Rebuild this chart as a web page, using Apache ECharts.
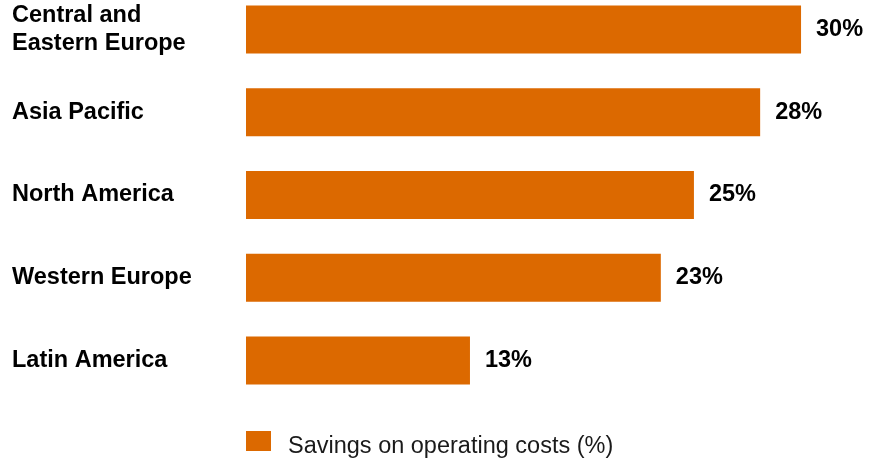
<!DOCTYPE html>
<html>
<head>
<meta charset="utf-8">
<script src="https://cdn.jsdelivr.net/npm/echarts@6/dist/echarts.min.js"></script>
<style>
  html, body { margin: 0; padding: 0; background: #fff; }
  #chart { width: 878px; height: 460px; }
</style>
</head>
<body>
<div id="chart"></div>
<script>
// 数据
const regions = ['Central and\nEastern Europe', 'Asia Pacific', 'North America', 'Western Europe', 'Latin America']
const savings = [30, 27.9, 24.5, 22.8, 13]
const seriesName = 'Savings on operating costs (%)'

const barColor = '#DC6900'
const font = '"Liberation Sans", Arial, sans-serif'

const chart = echarts.init(document.getElementById('chart'))
const option = {
  backgroundColor: '#fff',
  animation: false,
  grid: { left: 246, top: -12, width: 594, height: 414, outerBoundsMode: 'none', containLabel: false },
  legend: {
    data: [seriesName],
    left: 246,
    top: 431,
    padding: 0,
    icon: 'rect',
    itemWidth: 25,
    itemHeight: 20,
    formatter: '{t|{name}}',
    textStyle: {
      rich: {
        t: { fontSize: 23.5, color: '#1a1a1a', fontFamily: font, padding: [12, 0, 0, 12] },
      },
    },
  },
  xAxis: {
    type: 'value',
    min: 1.5,
    max: 32,
    show: false,
  },
  yAxis: {
    type: 'category',
    inverse: true,
    data: regions,
    axisLine: { show: false },
    axisTick: { show: false },
    axisLabel: {
      align: 'left',
      margin: 234,
      fontSize: 23.5,
      fontWeight: 'bold',
      lineHeight: 28,
      color: '#000',
      fontFamily: font,
    },
  },
  series: [
    {
      name: seriesName,
      type: 'bar',
      barWidth: 48,
      data: savings,
      itemStyle: { color: barColor },
      label: {
        show: true,
        position: 'right',
        distance: 15,
        fontSize: 23.5,
        fontWeight: 'bold',
        color: '#000',
        fontFamily: font,
        formatter: (p) => Math.round(p.value) + '%',
      },
    },
  ],
}
chart.setOption(option)
</script>
</body>
</html>
